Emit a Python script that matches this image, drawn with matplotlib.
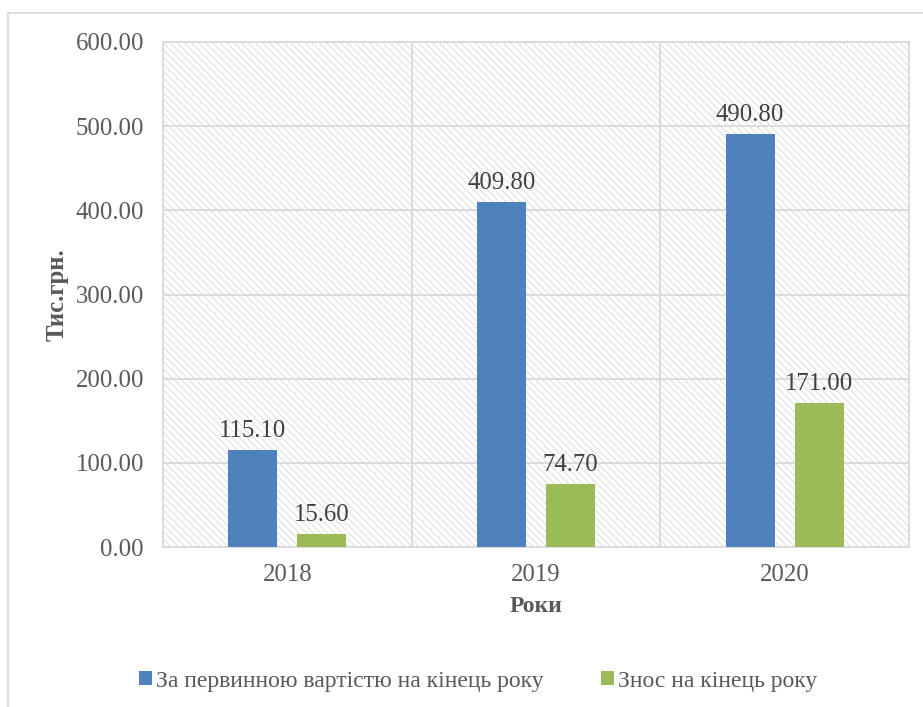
import matplotlib
matplotlib.use("Agg")
import matplotlib.pyplot as plt
from matplotlib.patches import Rectangle
from matplotlib.lines import Line2D
import numpy as np

plt.rcParams['font.family'] = ['Liberation Serif', 'DejaVu Serif']
plt.rcParams['hatch.linewidth'] = 0.8

# data
years = ['2018', '2019', '2020']
initial_cost = [115.10, 409.80, 490.80]
depreciation = [15.60, 74.70, 171.00]
series_names = ['За первинною вартістю на кінець року', 'Знос на кінець року']

blue = '#4F81BD'
green = '#9BBB59'
grid_col = '#d9d9d9'
text_col = '#595959'

DPI = 85
fig = plt.figure(figsize=(923 / DPI, 707 / DPI), dpi=DPI)
ax = fig.add_axes([163 / 923, 1 - 547 / 707, (909 - 163) / 923, (547 - 42) / 707])

# hatched plot area
ax.set_facecolor('white')
bg = Rectangle((0, 0), 1, 1, transform=ax.transAxes, facecolor='white',
               edgecolor='#dcdcdc', hatch='\\\\\\\\', linewidth=0, zorder=0)
ax.add_patch(bg)

x = np.arange(len(years))
w = 0.197
off = 0.139
b1 = ax.bar(x - off, initial_cost, w, color=blue, zorder=3, label=series_names[0])
b2 = ax.bar(x + off, depreciation, w, color=green, zorder=3, label=series_names[1])

for bars, vals in ((b1, initial_cost), (b2, depreciation)):
    for r, v in zip(bars, vals):
        ax.annotate(f'{v:.2f}', (r.get_x() + r.get_width() / 2, v),
                    xytext=(0, 7), textcoords='offset points',
                    ha='center', va='bottom', fontsize=21, color='#404040')

ax.set_xlim(-0.5, 2.5)
ax.set_ylim(0, 600)
ax.set_yticks(range(0, 601, 100))
ax.set_yticklabels([f'{v:.2f}' for v in range(0, 601, 100)])
ax.set_xticks(x)
ax.set_xticklabels(years)
ax.tick_params(length=0, labelsize=21, labelcolor=text_col)
ax.tick_params(axis='y', pad=16)
ax.tick_params(axis='x', pad=14)

# vertical + horizontal gridlines
ax.yaxis.grid(True, color=grid_col, linewidth=1.5, zorder=1)
for xv in [0.5, 1.5]:
    ax.axvline(xv, color=grid_col, linewidth=1.5, zorder=1)
ax.set_axisbelow(True)
for s in ax.spines.values():
    s.set_color(grid_col)
    s.set_linewidth(1.5)

ax.set_ylabel('Тис.грн.', fontsize=21, fontweight='bold', color=text_col, labelpad=6)
ax.set_xlabel('Роки', fontsize=20, fontweight='bold', color=text_col, labelpad=9)

fig.legend(handles=[b1, b2], loc='center', bbox_to_anchor=(478 / 923, 1 - 681 / 707),
           ncol=2, frameon=False, fontsize=20, labelcolor=text_col,
           handlelength=0.55, handleheight=0.55, handletextpad=0.2, columnspacing=2.4)

# outer chart border (cropped on right and bottom)
fig.add_artist(Line2D([8 / 923, 1], [1 - 13 / 707, 1 - 13 / 707], color=grid_col, linewidth=1.5))
fig.add_artist(Line2D([8 / 923, 8 / 923], [0, 1 - 13 / 707], color=grid_col, linewidth=1.5))

fig.savefig('out.png', dpi=DPI)
